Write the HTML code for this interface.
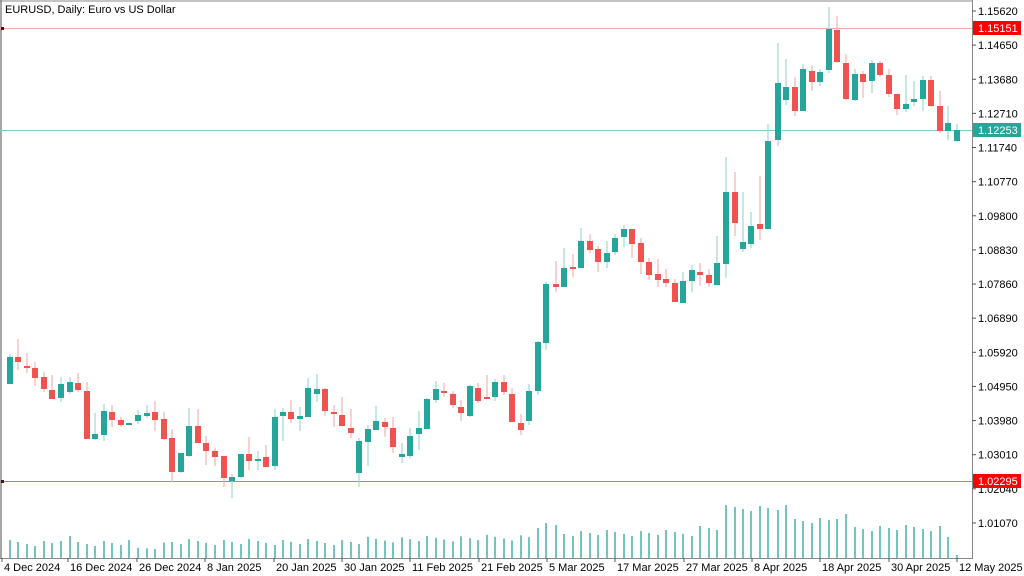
<!DOCTYPE html>
<html><head><meta charset="utf-8"><style>
html,body{margin:0;padding:0;background:#fff;width:1024px;height:576px;overflow:hidden}
svg{display:block;font-family:"Liberation Sans",sans-serif}
</style></head><body>
<svg id="s" width="1024" height="576" xmlns="http://www.w3.org/2000/svg">
<rect width="1024" height="576" fill="#fff"/>
<line x1="1" y1="0" x2="1" y2="558" stroke="#888" stroke-width="1.5"/>
<line x1="0" y1="1" x2="972" y2="1" stroke="#888" stroke-width="1"/>
<line x1="972.5" y1="0" x2="972.5" y2="559" stroke="#888"/>
<line x1="0" y1="558.5" x2="973" y2="558.5" stroke="#888"/>
<line x1="0" y1="28.5" x2="972" y2="28.5" stroke="#f6a8a8"/>
<line x1="0" y1="130.5" x2="972" y2="130.5" stroke="#80cfc6"/>
<line x1="0" y1="481.5" x2="972" y2="481.5" stroke="#f06a6a"/>
<rect x="1" y="27" width="3" height="3" fill="#600"/>
<rect x="1" y="480" width="3" height="3" fill="#600"/>
<text x="5" y="13" font-size="11" fill="#000">EURUSD, Daily:  Euro vs US Dollar</text>
<g id="c"></g>
</svg>
<script>
var s=document.getElementById('c'),h='';
var G='#26a69a',R='#ef5350',GW='#9fd8d1',RW='#f7b0b0';
var d=[[10,384,357,354,384],[18,357,362,339,370],[27,366,368,353,373],[35,368,378,362,386],[44,377,389,372,392],[52,390,399,375,399],[61,398,384,377,402],[70,392,382,377,394],[78,383,390,373,392],[87,391,439,382,439],[95,439,434,413,440],[104,435,411,404,441],[112,412,420,405,427],[121,420,425,417,427],[129,425,423,423,425],[138,421,415,410,424],[147,416,413,405,418],[155,412,420,401,431],[164,419,439,412,440],[172,438,472,429,482],[181,472,453,453,473],[189,456,426,408,457],[198,426,443,409,443],[206,443,451,436,465],[215,451,457,448,466],[224,456,478,456,487],[232,481,477,474,498],[241,477,454,454,478],[249,454,461,437,470],[258,461,459,451,470],[266,457,467,445,467],[275,466,417,409,470],[283,416,412,408,441],[291,412,419,400,423],[300,419,416,407,431],[308,417,388,378,417],[317,394,389,374,402],[325,389,411,388,416],[334,412,414,405,427],[342,415,426,397,426],[351,428,433,409,438],[359,473,441,438,487],[368,442,429,425,466],[376,430,421,406,430],[385,422,427,418,437],[393,428,447,417,453],[402,457,454,443,463],[410,456,436,428,458],[419,434,428,411,450],[427,429,399,398,429],[436,400,389,381,403],[444,391,392,383,397],[453,394,405,391,408],[461,407,413,400,421],[470,416,386,385,417],[478,388,401,383,403],[487,397,398,375,398],[495,397,382,379,401],[504,382,392,375,395],[512,394,422,388,422],[521,423,430,414,435],[529,421,391,384,425],[538,391,342,341,395],[546,343,284,282,350],[556,284,287,261,292],[564,287,268,248,287],[573,267,268,254,277],[581,268,241,228,268],[590,241,250,234,253],[598,249,262,246,272],[607,262,253,241,268],[615,252,238,234,255],[624,237,229,225,247],[632,229,244,229,258],[641,243,262,238,274],[649,262,275,258,280],[658,274,280,259,287],[666,279,283,269,287],[675,283,302,279,302],[683,303,281,272,303],[692,281,270,265,292],[700,272,275,263,286],[709,275,283,269,287],[717,285,263,236,285],[726,264,192,157,278],[735,192,223,172,236],[743,249,242,192,252],[751,244,226,212,248],[760,224,229,176,240],[768,229,141,124,229],[778,140,83,43,146],[786,100,87,59,105],[795,87,111,77,116],[803,111,69,64,111],[812,71,82,65,91],[820,82,72,69,86],[829,70,29,7,73],[837,30,62,16,63],[846,63,99,54,100],[855,100,74,69,101],[863,74,82,71,98],[872,81,63,60,93],[880,63,75,61,77],[889,75,94,69,97],[897,94,109,94,115],[906,109,104,75,112],[914,102,99,81,106],[923,99,80,76,111],[931,80,106,76,107],[940,106,131,91,133],[948,131,123,106,140],[957,141,130,124,142]];
d.forEach(function(c,i){var up=c[2]<c[1],col=up?G:R,wc=up?GW:RW;
var t=Math.min(c[1],c[2]),b=Math.max(c[1],c[2]);if(b-t<2)b=t+2;
h+='<line x1="'+c[0]+'" y1="'+c[3]+'" x2="'+c[0]+'" y2="'+c[4]+'" stroke="'+wc+'" stroke-width="1.2"/>';
h+='<rect x="'+(c[0]-3)+'" y="'+t+'" width="6" height="'+(b-t)+'" fill="'+col+'"/>';
var top;var x=c[0];
if(x<130)top=543-(x>60&&x<75?4:0);else if(x<170)top=549-(x-137)/6;else if(x<360)top=542;else if(x<530)top=540-(x-360)/60;else if(x<560)top=526;else if(x<700)top=533;else if(x<720)top=528;else if(x<790)top=508;else if(x<830)top=520;else if(x<850)top=517;else if(x<950)top=528;else top=555;
if(x==948)top=537;
if(x!=957)top+=(i*37%7)-3;
h+='<line x1="'+x+'" y1="'+top+'" x2="'+x+'" y2="558" stroke="'+G+'" stroke-width="1.3"/>';
});
var p=["1.15620","1.14650","1.13680","1.12710","1.11740","1.10770","1.09800","1.08830","1.07860","1.06890","1.05920","1.04950","1.03980","1.03010","1.02040","1.01070"];
p.forEach(function(v,i){var y=11+i*34.13;
h+='<line x1="972" y1="'+y+'" x2="976" y2="'+y+'" stroke="#555"/>';
h+='<text x="978" y="'+(y+4)+'" font-size="11" fill="#000">'+v+'</text>';});
[[28,'#f00','1.15151'],[130,'#26a69a','1.12253'],[481,'#f00','1.02295']].forEach(function(b){
h+='<rect x="973" y="'+(b[0]-7)+'" width="48" height="14" fill="'+b[1]+'"/><text x="978" y="'+(b[0]+4)+'" font-size="11" fill="#fff">'+b[2]+'</text>';});
var dt=[[2,"4 Dec 2024"],[68,"16 Dec 2024"],[137,"26 Dec 2024"],[205,"8 Jan 2025"],[274,"20 Jan 2025"],[342,"30 Jan 2025"],[410,"11 Feb 2025"],[479,"21 Feb 2025"],[547,"5 Mar 2025"],[615,"17 Mar 2025"],[684,"27 Mar 2025"],[752,"8 Apr 2025"],[820,"18 Apr 2025"],[889,"30 Apr 2025"],[957,"12 May 2025"]];
dt.forEach(function(a){h+='<line x1="'+a[0]+'" y1="558" x2="'+a[0]+'" y2="562" stroke="#555"/><text x="'+(a[0]+2)+'" y="571" font-size="11" fill="#000">'+a[1]+'</text>';});
s.innerHTML=h;
</script>
</body></html>
